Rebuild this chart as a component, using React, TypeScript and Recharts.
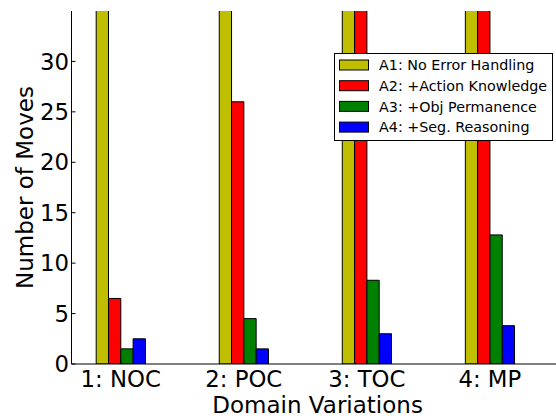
import { BarChart, Bar, XAxis, YAxis, Legend, Label } from "recharts"

// x positions of the four domain variations and their tick labels
const positions = [1, 2, 3, 4]
const categories = ["1: NOC", "2: POC", "3: TOC", "4: MP"]

// moves per approach (A1 and most of A2 run off the top of the plot)
const a1NoErrorHandling = [48, 55, 62, 70]
const a2ActionKnowledge = [6.5, 26, 45, 52]
const a3ObjPermanence = [1.5, 4.5, 8.3, 12.8]
const a4SegReasoning = [2.5, 1.5, 3, 3.8]

const yTicks = [0, 5, 10, 15, 20, 25, 30]

const seriesNames = [
  "A1: No Error Handling",
  "A2: +Action Knowledge",
  "A3: +Obj Permanence",
  "A4: +Seg. Reasoning",
]
const seriesKeys = ["a1", "a2", "a3", "a4"]
const seriesColors = ["#bfbf00", "#ff0000", "#008000", "#0000ff"]

const data = positions.map((x, i) => ({
  x,
  name: categories[i],
  a1: a1NoErrorHandling[i],
  a2: a2ActionKnowledge[i],
  a3: a3ObjPermanence[i],
  a4: a4SegReasoning[i],
}))

const FONT = "'DejaVu Sans', sans-serif"
const TICK_LEN = 4

const labelFor = (v: number) => categories[positions.indexOf(v)] ?? ""

function BottomTick({ x, y, payload }: any) {
  return (
    <g>
      <line x1={x} y1={y} x2={x} y2={y - TICK_LEN} stroke="#000" />
      <text x={x} y={y + 22.7} textAnchor="middle" fontSize={22.8} fontFamily={FONT} fill="#000">
        {labelFor(payload.value)}
      </text>
    </g>
  )
}

function TopTick({ x, y }: any) {
  return <line x1={x} y1={y} x2={x} y2={y + TICK_LEN} stroke="#000" />
}

function LeftTick({ x, y, payload }: any) {
  return (
    <g>
      <line x1={x} y1={y} x2={x + TICK_LEN} y2={y} stroke="#000" />
      <text x={x - 2.5} y={y} dy="0.36em" textAnchor="end" fontSize={22.8} fontFamily={FONT} fill="#000">
        {payload.value}
      </text>
    </g>
  )
}

function XTitle({ viewBox }: any) {
  return (
    <text
      x={viewBox.x + viewBox.width / 2}
      y={viewBox.y + 49}
      textAnchor="middle"
      fontSize={23}
      fontFamily={FONT}
      fill="#000"
    >
      Domain Variations
    </text>
  )
}

function YTitle({ viewBox }: any) {
  const cx = viewBox.x + 32.7
  const cy = viewBox.y + viewBox.height / 2
  return (
    <text
      x={cx}
      y={cy}
      transform={`rotate(-90, ${cx}, ${cy})`}
      textAnchor="middle"
      fontSize={23}
      fontFamily={FONT}
      fill="#000"
    >
      Number of Moves
    </text>
  )
}

function LegendBox() {
  return (
    <svg width={219} height={88} style={{ display: "block" }}>
      <rect x={0.5} y={0.5} width={218} height={87} fill="#fff" stroke="#000" />
      {seriesNames.map((name, i) => (
        <g key={name}>
          <rect x={5.5} y={7 + i * 20.7} width={29} height={10} fill={seriesColors[i]} stroke="#000" />
          <text x={45} y={12 + i * 20.7} dy="0.36em" fontSize={14.3} fontFamily={FONT} fill="#000">
            {name}
          </text>
        </g>
      ))}
    </svg>
  )
}

export default function App() {
  return (
    <div
      style={{
        position: "fixed",
        left: 0,
        top: 0,
        width: 556,
        height: 416,
        overflow: "hidden",
        background: "#fff",
      }}
    >
      <BarChart
        width={570}
        height={416}
        data={data}
        barGap={0}
        margin={{ top: 11, right: 6.3, bottom: 0, left: 0 }}
      >
        <XAxis
          xAxisId="bottom"
          dataKey="x"
          type="number"
          domain={[0.6, 4.6]}
          ticks={positions}
          interval={0}
          allowDataOverflow
          height={52}
          tickSize={0}
          tickMargin={0}
          axisLine={{ stroke: "#000" }}
          tickLine={false}
          tick={BottomTick}
        >
          <Label content={XTitle} />
        </XAxis>
        <XAxis
          xAxisId="top"
          orientation="top"
          dataKey="x"
          type="number"
          domain={[0.6, 4.6]}
          ticks={positions}
          interval={0}
          allowDataOverflow
          height={0}
          tickSize={0}
          tickMargin={0}
          axisLine={{ stroke: "#000" }}
          tickLine={false}
          tick={TopTick}
        />
        <YAxis
          type="number"
          domain={[0, 35]}
          ticks={yTicks}
          interval={0}
          allowDataOverflow
          width={71.5}
          tickSize={0}
          tickMargin={0}
          axisLine={{ stroke: "#000" }}
          tickLine={false}
          tick={LeftTick}
        >
          <Label content={YTitle} />
        </YAxis>
        <Legend
          layout="vertical"
          align="center"
          verticalAlign="middle"
          content={LegendBox}
          wrapperStyle={{ left: 333.5, top: 53, width: 219, height: 88 }}
        />
        {seriesKeys.map((key, i) => (
          <Bar
            key={key}
            xAxisId="bottom"
            dataKey={key}
            name={seriesNames[i]}
            fill={seriesColors[i]}
            stroke="#000"
            strokeWidth={1}
            barSize={12.3}
            isAnimationActive={false}
          />
        ))}
      </BarChart>
    </div>
  )
}
